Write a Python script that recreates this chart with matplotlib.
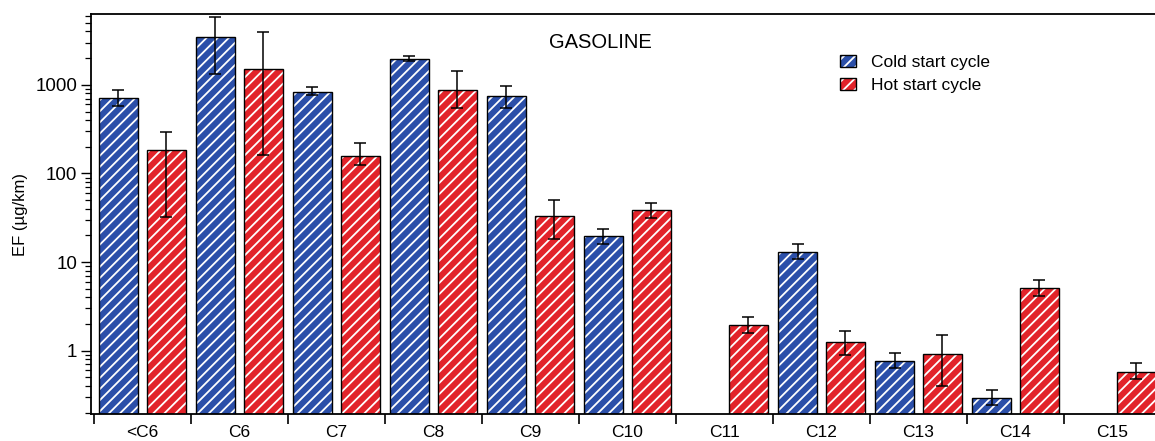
import numpy as np
import matplotlib
matplotlib.use("Agg")
import matplotlib.pyplot as plt
from matplotlib.patches import Patch
from matplotlib.colors import to_rgba
from matplotlib.ticker import FixedLocator, NullFormatter, LogLocator

plt.rcParams['font.family'] = ['Liberation Sans', 'DejaVu Sans']
plt.rcParams['hatch.linewidth'] = 1.3

categories = ["<C6", "C6", "C7", "C8", "C9", "C10", "C11", "C12", "C13", "C14", "C15"]
cold = [707, 3480, 834, 1950, 745, 19.6, np.nan, 12.9, 0.773, 0.291, np.nan]
cold_lo = [580, 1330, 771, 1850, 550, 16.2, np.nan, 10.8, 0.634, 0.243, np.nan]
cold_hi = [871, 5850, 942, 2123, 975, 23.9, np.nan, 15.9, 0.953, 0.361, np.nan]
hot = [186, 1503, 158, 871, 33.5, 38.2, 1.94, 1.26, 0.92, 5.07, 0.581]
hot_lo = [32.4, 162, 126, 546, 18.4, 31.3, 1.60, 0.89, 0.398, 4.16, 0.481]
hot_hi = [290, 3960, 220, 1438, 50, 47, 2.41, 1.67, 1.50, 6.29, 0.723]
labels = ["Cold start cycle", "Hot start cycle"]
title = "GASOLINE"
ylabel = "EF (µg/km)"

BLUE = "#2b4fa9"
RED = "#e2232a"
WHITE = to_rgba("white")

W, H = 1155, 441
fig = plt.figure(figsize=(W / 100, H / 100), dpi=100)
ax = fig.add_axes([91 / W, 1 - 414 / H, (1161 - 91) / W, (414 - 14) / H])

x = np.arange(len(categories))
off = 0.247
bw = 0.40


def white_hatch(p):
    if hasattr(p, "set_hatchcolor"):
        p.set_hatchcolor("white")
    else:
        p._hatch_color = WHITE


def draw(vals, lo, hi, xpos, color):
    vals = np.array(vals, float)
    lo = np.array(lo, float)
    hi = np.array(hi, float)
    bars = ax.bar(xpos, vals, width=bw, color=color, edgecolor="black",
                  linewidth=1.0, hatch="///", zorder=2)
    for b in bars:
        white_hatch(b)
    m = ~np.isnan(vals)
    ax.errorbar(xpos[m], vals[m], yerr=[vals[m] - lo[m], hi[m] - vals[m]],
                fmt="none", ecolor="black", elinewidth=1.1, capsize=4.2,
                capthick=1.1, zorder=3)


draw(cold, cold_lo, cold_hi, x - off, BLUE)
draw(hot, hot_lo, hot_hi, x + off, RED)

ax.set_yscale("log")
ax.set_ylim(0.193, 6300)
ax.set_xlim(-0.53, 10.5)

ax.yaxis.set_major_locator(FixedLocator([1, 10, 100, 1000]))
ax.yaxis.set_major_formatter(matplotlib.ticker.FuncFormatter(lambda v, p: f"{v:g}"))
ax.yaxis.set_minor_locator(LogLocator(base=10, subs=np.arange(2, 10)))
ax.yaxis.set_minor_formatter(NullFormatter())
ax.tick_params(axis="y", which="major", direction="out", length=7, width=1.0,
               labelsize=13.5, pad=3)
ax.tick_params(axis="y", which="minor", direction="out", length=4.5, width=0.9)

ax.set_xticks(x - 0.5)
ax.set_xticklabels([])
ax.set_xticks(x, minor=True)
ax.set_xticklabels(categories, minor=True)
ax.tick_params(axis="x", which="major", direction="out", length=7, width=1.2)
ax.tick_params(axis="x", which="minor", length=0, labelsize=12.5, pad=8)

for s in ["left", "bottom", "top"]:
    ax.spines[s].set_linewidth(1.3)
ax.spines["right"].set_visible(False)

ax.set_ylabel(ylabel, fontsize=12, labelpad=5)
ax.text(0.476, 0.9275, title, transform=ax.transAxes, ha="center",
        va="center", fontsize=14.5)

handles = []
for c in (BLUE, RED):
    p = Patch(facecolor=c, edgecolor="black", linewidth=1.0, hatch="///")
    white_hatch(p)
    handles.append(p)
ax.legend(handles, labels, loc="upper left",
          bbox_to_anchor=(840 / W, 1 - 55 / H), bbox_transform=fig.transFigure,
          frameon=False, fontsize=12.5, handlelength=0.9, handleheight=0.65,
          handletextpad=0.9, labelspacing=0.45, borderpad=0, borderaxespad=0)

fig.savefig("out.png", dpi=100)
